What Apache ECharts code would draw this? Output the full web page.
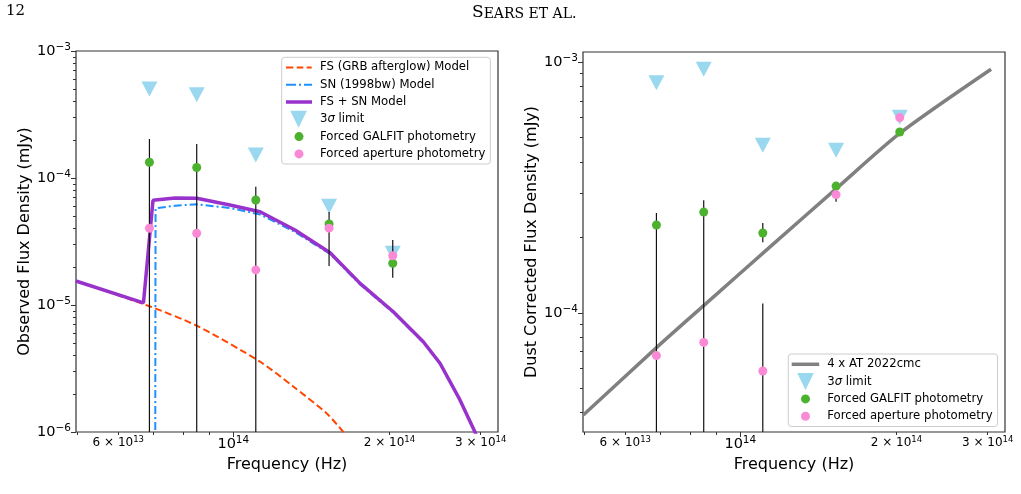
<!DOCTYPE html>
<html>
<head>
<meta charset="utf-8">
<script src="https://cdn.jsdelivr.net/npm/echarts@6/dist/echarts.min.js"></script>
<style>
  html, body { margin: 0; padding: 0; background: #fff; }
  #chart { width: 1021px; height: 494px; }
</style>
</head>
<body>
<div id="chart"></div>
<script>
  // frequencies of the five photometry points (Hz)
  const bandFreq = [6.89e13, 8.50e13, 1.105e14, 1.53e14, 2.03e14];

  // left panel: observed flux density (mJy)
  const obsLimit = [5.02e-4, 4.53e-4, 1.52e-4, 6.0e-5, 2.55e-5];
  const obsGalfit = [1.33e-4, 1.21e-4, 6.71e-5, 4.35e-5, 2.13e-5];
  const obsAperture = [4.02e-5, 3.67e-5, 1.89e-5, 4.03e-5, 2.44e-5];
  const obsErrLo = [0, 0, 0, 2.03e-5, 1.64e-5]; // 0 = error bar runs off the bottom
  const obsErrHi = [2.03e-4, 1.85e-4, 8.53e-5, 5.40e-5, 3.25e-5];

  // left panel: models
  const fsFreq = [4.97e13, 6.85e13, 8.50e13, 1.126e14, 1.305e14, 1.514e14, 1.63e14, 1.70e14];
  const fsFlux = [1.545e-5, 9.86e-6, 6.87e-6, 3.58e-6, 2.28e-6, 1.40e-6, 1.0e-6, 8.0e-7];
  const snFreq = [7.06e13, 7.08e13, 7.72e13, 8.50e13, 9.85e13, 1.126e14, 1.315e14, 1.537e14, 1.756e14, 2.035e14, 2.325e14, 2.504e14, 2.736e14, 2.925e14, 3.02e14];
  const snFlux = [1e-8, 5.77e-5, 6.05e-5, 6.21e-5, 5.81e-5, 5.16e-5, 3.76e-5, 2.52e-5, 1.45e-5, 8.69e-6, 5.07e-6, 3.43e-6, 1.79e-6, 1.0e-6, 7.1e-7];
  const sumFreq = [4.97e13, 6.71e13, 7.00e13, 7.72e13, 8.50e13, 9.85e13, 1.126e14, 1.315e14, 1.537e14, 1.756e14, 2.035e14, 2.325e14, 2.504e14, 2.736e14, 2.925e14, 3.02e14];
  const sumFlux = [1.545e-5, 1.04e-5, 6.67e-5, 6.97e-5, 6.92e-5, 6.12e-5, 5.43e-5, 3.90e-5, 2.58e-5, 1.48e-5, 8.85e-6, 5.14e-6, 3.48e-6, 1.79e-6, 1.0e-6, 7.1e-7];

  // right panel: dust corrected flux density (mJy)
  const dcLimit = [8.26e-4, 9.35e-4, 4.66e-4, 4.45e-4, 6.02e-4];
  const dcGalfit = [2.24e-4, 2.52e-4, 2.08e-4, 3.20e-4, 5.26e-4];
  const dcAperture = [6.75e-5, 7.62e-5, 5.86e-5, 2.96e-4, 6.0e-4];
  const dcGalfitLo = [0, 0, 1.91e-4, null, null];
  const dcGalfitHi = [2.50e-4, 2.81e-4, 2.28e-4, null, null];
  const dcApertureLo = [null, null, 0, 2.77e-4, null];
  const dcApertureHi = [null, null, 1.09e-4, 3.10e-4, null];
  const atFreq = [4.98e13, 6.90e13, 8.52e13, 1.141e14, 1.535e14, 2.032e14, 3.045e14];
  const atFlux = [3.91e-5, 7.28e-5, 1.073e-4, 1.832e-4, 3.14e-4, 5.20e-4, 9.35e-4];

  // tick positions
  const xMajorTicks = [1e14];
  const xMinorTicks = [5e13, 6e13, 7e13, 8e13, 9e13, 2e14, 3e14];
  const xMinorLabels = [6e13, 2e14, 3e14];

  const FONT = 'DejaVu Sans';
  const X_MIN = 13.6966, X_MAX = 14.5105;
  const OBS_MIN = -6, OBS_MAX = -3;
  const DC_MIN = -4.4753, DC_MAX = -2.9602;

  const L = (v) => Math.log10(v);
  const pts = (xs, ys) => xs.map((x, i) => [L(x), L(ys[i])]);
  const decadeMinors = (from, to) => {
    const out = [];
    for (let n = from; n <= to; n++) for (let k = 2; k <= 9; k++) out.push(L(k * Math.pow(10, n)));
    return out;
  };

  const majorLabel = (v) => {
    const e = Math.round(v);
    return '{b|10}{s|' + (e < 0 ? '\u2212' + -e : e) + '}';
  };
  const minorLabel = (v) => {
    const p = Math.floor(v + 1e-9);
    const m = Math.round(Math.pow(10, v - p));
    return '{m|' + m + ' \u00d7 10}{ms|' + p + '}';
  };
  const majorRich = {
    b: { fontFamily: FONT, fontSize: 14.5, color: '#000', lineHeight: 18 },
    s: { fontFamily: FONT, fontSize: 10.5, color: '#000', lineHeight: 11, verticalAlign: 'top' },
  };
  const minorRich = {
    m: { fontFamily: FONT, fontSize: 12, color: '#000', lineHeight: 15 },
    ms: { fontFamily: FONT, fontSize: 8.5, color: '#000', lineHeight: 9, verticalAlign: 'top' },
  };
  const tickLine = { color: '#333', width: 1 };

  // two x axes per panel: major (10^14) and minor (labelled 6e13, 2e14, 3e14)
  const xAxesFor = (gridIndex) => [
    {
      type: 'value', gridIndex, position: 'bottom', min: X_MIN, max: X_MAX,
      name: 'Frequency (Hz)', nameLocation: 'middle', nameGap: 21,
      nameTextStyle: { fontFamily: FONT, fontSize: 16, color: '#000' },
      axisLine: { show: false, onZero: false },
      splitLine: { show: false },
      axisTick: { customValues: xMajorTicks.map(L), length: 5, lineStyle: tickLine },
      axisLabel: { customValues: xMajorTicks.map(L), formatter: majorLabel, rich: majorRich, margin: 3 },
    },
    {
      type: 'value', gridIndex, position: 'bottom', min: X_MIN, max: X_MAX,
      axisLine: { show: false, onZero: false },
      splitLine: { show: false },
      axisTick: { customValues: xMinorTicks.map(L), length: 3, lineStyle: tickLine },
      axisLabel: { customValues: xMinorLabels.map(L), formatter: minorLabel, rich: minorRich, margin: 3 },
    },
  ];

  const yAxesFor = (gridIndex, min, max, majors, minors, name) => [
    {
      type: 'value', gridIndex, position: 'left', min, max,
      name, nameLocation: 'middle', nameGap: 41, nameRotate: 90,
      nameTextStyle: { fontFamily: FONT, fontSize: 16, color: '#000' },
      axisLine: { show: false, onZero: false },
      splitLine: { show: false },
      axisTick: { customValues: majors, length: 5, lineStyle: tickLine },
      axisLabel: { customValues: majors, formatter: majorLabel, rich: majorRich, margin: 5, showMinLabel: true, showMaxLabel: true },
    },
    {
      type: 'value', gridIndex, position: 'left', min, max,
      axisLine: { show: false, onZero: false },
      splitLine: { show: false },
      axisTick: { customValues: minors.filter((v) => v > min && v < max), length: 3, lineStyle: tickLine },
      axisLabel: { show: false },
    },
  ];

  const errSeries = (xi, yi, lo, hi, yMin) => {
    const data = [];
    bandFreq.forEach((f, i) => {
      if (lo[i] == null) return;
      data.push([L(f), lo[i] > 0 ? L(lo[i]) : yMin, L(hi[i])]);
    });
    return {
      type: 'custom', xAxisIndex: xi, yAxisIndex: yi, z: 4, silent: true, data,
      renderItem: (params, api) => {
        const p1 = api.coord([api.value(0), api.value(1)]);
        const p2 = api.coord([api.value(0), api.value(2)]);
        return { type: 'line', shape: { x1: p1[0], y1: p1[1], x2: p2[0], y2: p2[1] }, style: { stroke: '#111', lineWidth: 1.2 } };
      },
    };
  };

  const TRI = 'path://M0 0L16 0L8 15Z';
  const C_TRI = '#9AD8EF', C_GREEN = '#4CB22E', C_PINK = '#FA8AD6';

  const scatter = (name, xi, yi, ys, symbol, size, color, z) => ({
    name, type: 'scatter', xAxisIndex: xi, yAxisIndex: yi, z, silent: true,
    symbol, symbolSize: size, itemStyle: { color, opacity: 1 },
    data: pts(bandFreq, ys),
  });
  const line = (name, xi, yi, xs, ys, color, width, type, z, smooth) => ({
    name, type: 'line', xAxisIndex: xi, yAxisIndex: yi, z, silent: true,
    showSymbol: false, symbol: 'none', clip: true,
    smooth: smooth || false,
    lineStyle: { color, width, type },
    itemStyle: { color },
    data: pts(xs, ys),
  });

  // legend icons as filled paths, anchored to the full icon box
  const ICON_H = 17;
  const box = (w) => 'M0 0M' + w + ' ' + ICON_H;
  const segIcon = (w, segs, th, color) => {
    const y = (ICON_H - th) / 2;
    let p = box(w);
    segs.forEach(([a, b]) => { p += 'M' + a + ' ' + y + 'H' + b + 'V' + (y + th) + 'H' + a + 'Z'; });
    return { icon: 'path://' + p, itemStyle: { color, borderWidth: 0, opacity: 1 } };
  };
  const triIcon = (w, cx) => ({
    icon: 'path://' + box(w) + 'M' + (cx - 8.3) + ' 0H' + (cx + 8.3) + 'L' + cx + ' 17Z',
    itemStyle: { color: C_TRI, borderWidth: 0, opacity: 1 },
  });
  const dotIcon = (w, cx, color) => ({
    icon: 'path://' + box(w) + 'M' + (cx + 4.5) + ' 8.5A4.5 4.5 0 1 1 ' + (cx - 4.5) + ' 8.5A4.5 4.5 0 1 1 ' + (cx + 4.5) + ' 8.5Z',
    itemStyle: { color, borderWidth: 0, opacity: 1 },
  });

  const legendBase = {
    orient: 'vertical', itemHeight: ICON_H, itemGap: 0.3, selectedMode: false,
    borderColor: '#cccccc', borderWidth: 1, borderRadius: 3, backgroundColor: 'rgba(255,255,255,0.8)',
    symbolRotate: 0,
    formatter: (name) => (name === '3σ limit' ? '3{i|σ} limit' : name),
    textStyle: {
      fontFamily: FONT, fontSize: 11.7, color: '#000', padding: [0, 0, 0, 3],
      rich: { i: { fontFamily: FONT, fontSize: 11.7, fontStyle: 'italic', color: '#000' } },
    },
  };

  var chartDom = document.getElementById('chart');
  var myChart = echarts.init(chartDom, null, { renderer: 'canvas' });

  var option = {
    animation: false,
    backgroundColor: '#fff',
    title: [
      { text: '12', left: 6, top: 4, padding: 0, textStyle: { fontFamily: 'DejaVu Serif', fontSize: 15, fontWeight: 'normal', color: '#000' } },
      {
        text: '{a|S}{b|EARS ET AL.}', left: 472, top: 4, padding: 0,
        textStyle: {
          fontWeight: 'normal',
          rich: {
            a: { fontFamily: 'DejaVu Serif', fontSize: 17, fontWeight: 'normal', color: '#000', verticalAlign: 'bottom', lineHeight: 17 },
            b: { fontFamily: 'DejaVu Serif', fontSize: 14, fontWeight: 'normal', color: '#000', verticalAlign: 'bottom', lineHeight: 15 },
          },
        },
      },
    ],
    grid: [
      { left: 76, top: 51, width: 422, height: 381, show: true, borderColor: '#333', borderWidth: 1.2, backgroundColor: 'transparent' },
      { left: 583, top: 52, width: 422, height: 380, show: true, borderColor: '#333', borderWidth: 1.2, backgroundColor: 'transparent' },
    ],
    xAxis: [...xAxesFor(0), ...xAxesFor(1)],
    yAxis: [
      ...yAxesFor(0, OBS_MIN, OBS_MAX, [-6, -5, -4, -3], decadeMinors(-6, -4), 'Observed Flux Density (mJy)'),
      ...yAxesFor(1, DC_MIN, DC_MAX, [-4, -3], decadeMinors(-5, -3), 'Dust Corrected Flux Density (mJy)'),
    ],
    legend: [
      {
        ...legendBase, left: 281.7, top: 57.3, itemWidth: 26, padding: [1.6, 5, 1.6, 4.3],
        data: [
          { name: 'FS (GRB afterglow) Model', ...segIcon(26, [[0, 7.3], [10.7, 17.3], [20.7, 25.7]], 2, '#FF4500') },
          { name: 'SN (1998bw) Model', ...segIcon(26, [[0, 10], [13, 15], [18, 26]], 2, '#1E90FF') },
          { name: 'FS + SN Model', ...segIcon(26, [[0, 26]], 3.5, '#9932CC') },
          { name: '3σ limit', ...triIcon(26, 12.6) },
          { name: 'Forced GALFIT photometry', ...dotIcon(26, 13, C_GREEN) },
          { name: 'Forced aperture photometry', ...dotIcon(26, 13, C_PINK) },
        ],
      },
      {
        ...legendBase, left: 788.3, top: 354, itemWidth: 27.5, padding: [1.8, 5, 1.8, 3.4],
        data: [
          { name: '4 x AT 2022cmc', ...segIcon(27.5, [[0, 27.5]], 3.5, '#808080') },
          { name: '3σ limit', ...triIcon(27.5, 13.8) },
          { name: 'Forced GALFIT photometry', ...dotIcon(27.5, 13.8, C_GREEN) },
          { name: 'Forced aperture photometry', ...dotIcon(27.5, 13.8, C_PINK) },
        ],
      },
    ],
    series: [
      // left panel
      line('FS (GRB afterglow) Model', 0, 0, fsFreq, fsFlux, '#FF4500', 2, [7, 3.5], 2, 0.25),
      line('SN (1998bw) Model', 0, 0, snFreq, snFlux, '#1E90FF', 2, [8, 3, 2, 3], 2, false),
      line('FS + SN Model', 0, 0, sumFreq, sumFlux, '#9932CC', 3.5, 'solid', 2, false),
      scatter('3σ limit', 0, 0, obsLimit, TRI, [16, 15], C_TRI, 3),
      errSeries(0, 0, obsErrLo, obsErrHi, OBS_MIN),
      scatter('Forced GALFIT photometry', 0, 0, obsGalfit, 'circle', 9, C_GREEN, 5),
      scatter('Forced aperture photometry', 0, 0, obsAperture, 'circle', 9, C_PINK, 6),
      // right panel
      line('4 x AT 2022cmc', 2, 2, atFreq, atFlux, '#808080', 3.5, 'solid', 2, 0.25),
      scatter('3σ limit', 2, 2, dcLimit, TRI, [16, 15], C_TRI, 3),
      errSeries(2, 2, dcGalfitLo, dcGalfitHi, DC_MIN),
      errSeries(2, 2, dcApertureLo, dcApertureHi, DC_MIN),
      scatter('Forced GALFIT photometry', 2, 2, dcGalfit, 'circle', 9, C_GREEN, 5),
      scatter('Forced aperture photometry', 2, 2, dcAperture, 'circle', 9, C_PINK, 6),
    ],
  };
  option && myChart.setOption(option);
</script>
</body>
</html>
